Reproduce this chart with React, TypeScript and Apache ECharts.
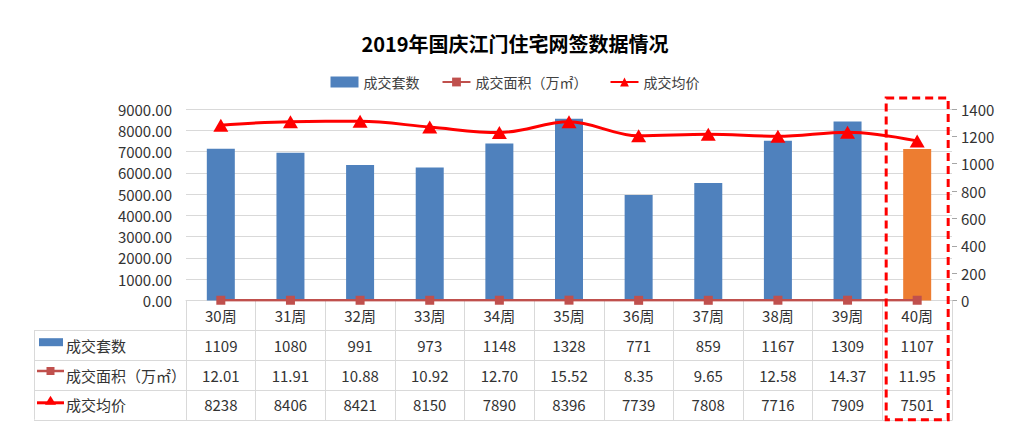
import React, { useEffect, useRef } from "react";
import * as echarts from "echarts";

const categories = ["30周", "31周", "32周", "33周", "34周", "35周", "36周", "37周", "38周", "39周", "40周"];
const unitsSold = [1109, 1080, 991, 973, 1148, 1328, 771, 859, 1167, 1309, 1107];
const areaSold = [12.01, 11.91, 10.88, 10.92, 12.7, 15.52, 8.35, 9.65, 12.58, 14.37, 11.95];
const avgPrice = [8238, 8406, 8421, 8150, 7890, 8396, 7739, 7808, 7716, 7909, 7501];
const seriesNames = ["成交套数", "成交面积（万㎡）", "成交均价"];
const highlightCategory = "40周";

const FONT = "'Noto Sans CJK SC', 'Noto Sans', sans-serif";
const W = 1030;
const H = 430;
const GRID_LEFT = 186;
const GRID_RIGHT = 78;
const GRID_TOP = 109;
const GRID_BOTTOM_Y = 300.5;
const ROW_H = 29.8;
const TABLE_LEFT = 34;
const TEXT_COLOR = "#333333";
const LINE_COLOR = "#d9d9d9";
const BLUE = "#4F81BD";
const ORANGE = "#ED7D31";
const BROWN = "#C0504D";
const RED = "#FF0000";

export default function App() {
  const ref = useRef<HTMLDivElement>(null);
  useEffect(() => {
    document.body.style.margin = "0";
    if (!ref.current) return;
    const chart = echarts.init(ref.current, null, { renderer: "svg" });
    const option: any = {
      animation: false,
      backgroundColor: "#ffffff",
      textStyle: { fontFamily: FONT },
      title: {
        text: "2019年国庆江门住宅网签数据情况",
        left: "center",
        top: 28,
        textStyle: { fontFamily: FONT, fontSize: 20, fontWeight: "bold", color: "#000" },
      },
      legend: {
        top: 70,
        left: "center",
        itemWidth: 28,
        itemHeight: 11,
        itemGap: 22,
        textStyle: { fontFamily: FONT, fontSize: 14, color: "#404040" },
        data: [
          { name: seriesNames[0], icon: "rect" },
          { name: seriesNames[1] },
          { name: seriesNames[2] },
        ],
      },
      grid: {
        left: GRID_LEFT,
        right: GRID_RIGHT,
        top: GRID_TOP,
        bottom: H - GRID_BOTTOM_Y,
        containLabel: false,
      },
      xAxis: {
        type: "category",
        data: categories,
        boundaryGap: true,
        axisLine: { show: true, lineStyle: { color: LINE_COLOR, width: 1 } },
        axisTick: { show: true, length: 120, lineStyle: { color: LINE_COLOR, width: 1 } },
        axisLabel: {
          interval: 0,
          margin: 0,
          verticalAlign: "top",
          lineHeight: ROW_H,
          fontSize: 15,
          fontFamily: FONT,
          color: TEXT_COLOR,
          formatter: (v: string, i: number) =>
            [v, String(unitsSold[i]), areaSold[i].toFixed(2), String(avgPrice[i])].join("\n"),
        },
      },
      yAxis: [
        {
          type: "value",
          min: 0,
          max: 9000,
          interval: 1000,
          axisLine: { show: false },
          axisTick: { show: false },
          axisLabel: {
            fontSize: 15,
            fontFamily: FONT,
            color: TEXT_COLOR,
            margin: 14,
            formatter: (v: number) => v.toFixed(2),
          },
          splitLine: { show: true, lineStyle: { color: LINE_COLOR, width: 1 } },
        },
        {
          type: "value",
          min: 0,
          max: 1400,
          interval: 200,
          axisLine: { show: false },
          axisTick: { show: true, length: 5, lineStyle: { color: "#a6a6a6" } },
          axisLabel: {
            fontSize: 15,
            fontFamily: FONT,
            color: TEXT_COLOR,
            margin: 9,
            formatter: (v: number) => String(v),
          },
          splitLine: { show: false },
        },
      ],
      series: [
        {
          name: seriesNames[0],
          type: "bar",
          yAxisIndex: 1,
          barWidth: 28,
          itemStyle: { color: BLUE },
          data: unitsSold.map((v, i) =>
            categories[i] === highlightCategory ? { value: v, itemStyle: { color: ORANGE } } : v
          ),
          z: 2,
        },
        {
          name: seriesNames[1],
          type: "line",
          yAxisIndex: 0,
          data: areaSold,
          symbol: "rect",
          symbolSize: 9,
          lineStyle: { color: BROWN, width: 2.5 },
          itemStyle: { color: BROWN },
          z: 4,
        },
        {
          name: seriesNames[2],
          type: "line",
          yAxisIndex: 0,
          data: avgPrice,
          smooth: 0.35,
          symbol: "triangle",
          symbolSize: [15, 13],
          lineStyle: { color: RED, width: 3 },
          itemStyle: { color: RED },
          z: 5,
        },
      ],
    };
    chart.setOption(option);

    const colCenter = chart.convertToPixel({ xAxisIndex: 0 }, highlightCategory) as number;
    const gridRightX = W - GRID_RIGHT;
    const tableBottom = GRID_BOTTOM_Y + ROW_H * 4;
    const graphics: any[] = [];
    for (let k = 1; k <= 4; k++) {
      const y = Math.round(GRID_BOTTOM_Y + ROW_H * k) + 0.5;
      graphics.push({
        type: "line",
        shape: { x1: TABLE_LEFT, y1: y, x2: gridRightX, y2: y },
        style: { stroke: LINE_COLOR, lineWidth: 1 },
        silent: true,
      });
    }
    graphics.push({
      type: "line",
      shape: { x1: TABLE_LEFT + 0.5, y1: GRID_BOTTOM_Y + ROW_H, x2: TABLE_LEFT + 0.5, y2: tableBottom },
      style: { stroke: LINE_COLOR, lineWidth: 1 },
      silent: true,
    });
    const rowCenters = [1, 2, 3].map((r) => GRID_BOTTOM_Y + ROW_H * r + ROW_H / 2);
    graphics.push({
      type: "rect",
      shape: { x: 39, y: rowCenters[0] - 7, width: 24, height: 8 },
      style: { fill: BLUE },
      silent: true,
    });
    graphics.push({
      type: "line",
      shape: { x1: 37, y1: rowCenters[1] - 4, x2: 64, y2: rowCenters[1] - 4 },
      style: { stroke: BROWN, lineWidth: 2.5 },
      silent: true,
    });
    graphics.push({
      type: "rect",
      shape: { x: 46.5, y: rowCenters[1] - 8, width: 8, height: 8 },
      style: { fill: BROWN },
      silent: true,
    });
    graphics.push({
      type: "line",
      shape: { x1: 37, y1: rowCenters[2] - 2, x2: 64, y2: rowCenters[2] - 2 },
      style: { stroke: RED, lineWidth: 3 },
      silent: true,
    });
    graphics.push({
      type: "polygon",
      shape: { points: [[50.5, rowCenters[2] - 9], [45, rowCenters[2]], [56, rowCenters[2]]] },
      style: { fill: RED },
      silent: true,
    });
    seriesNames.forEach((name, r) => {
      graphics.push({
        type: "text",
        x: 66,
        y: rowCenters[r],
        style: {
          text: name,
          fontSize: 15,
          fontFamily: FONT,
          fill: TEXT_COLOR,
          verticalAlign: "middle",
          align: "left",
        },
        silent: true,
      });
    });
    graphics.push({
      type: "rect",
      shape: { x: colCenter - 31, y: GRID_TOP - 11, width: 62, height: tableBottom - (GRID_TOP - 11) },
      style: { fill: "none", stroke: RED, lineWidth: 3, lineDash: [8, 5] },
      z: 100,
      silent: true,
    });
    chart.setOption({ graphic: graphics });

    return () => chart.dispose();
  }, []);
  return <div ref={ref} style={{ width: W, height: H }} />;
}
